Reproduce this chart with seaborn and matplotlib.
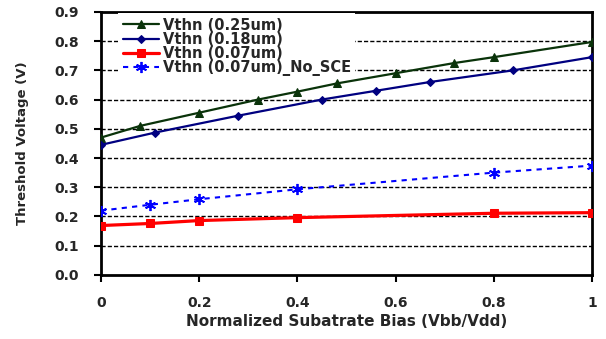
import seaborn as sns
import matplotlib.pyplot as plt

# Vthn vs normalized substrate bias
x_25 = [0, 0.08, 0.2, 0.32, 0.4, 0.48, 0.6, 0.72, 0.8, 1.0]
vth_25 = [0.47, 0.51, 0.555, 0.60, 0.627, 0.655, 0.69, 0.725, 0.745, 0.797]

x_18 = [0, 0.11, 0.28, 0.45, 0.56, 0.67, 0.84, 1.0]
vth_18 = [0.445, 0.487, 0.545, 0.60, 0.63, 0.66, 0.70, 0.745]

x_07 = [0, 0.1, 0.2, 0.4, 0.8, 1.0]
vth_07 = [0.169, 0.176, 0.186, 0.196, 0.211, 0.213]
vth_07_nosce = [0.22, 0.24, 0.259, 0.293, 0.35, 0.374]

y_ticks = [0.0, 0.1, 0.2, 0.3, 0.4, 0.5, 0.6, 0.7, 0.8, 0.9]
x_ticks = [0, 0.2, 0.4, 0.6, 0.8, 1.0]
x_ticklabels = ['0', '0.2', '0.4', '0.6', '0.8', '1']

sns.set_style("white")
plt.rcParams['font.family'] = ['DejaVu Sans']
plt.rcParams['font.weight'] = 'bold'

fig = plt.figure(figsize=(6.06, 3.39), dpi=100)
ax = fig.add_axes([0.1667, 0.189, 0.81, 0.776])

sns.lineplot(x=x_25, y=vth_25, ax=ax, color='#0a330a', lw=1.6, marker='^',
             markersize=6, markeredgecolor='#0a330a', label='Vthn (0.25um)', zorder=4)
sns.lineplot(x=x_18, y=vth_18, ax=ax, color='#000080', lw=1.6, marker='D',
             markersize=4.5, markeredgecolor='#000080', label='Vthn (0.18um)', zorder=4)
sns.lineplot(x=x_07, y=vth_07, ax=ax, color='#ff0000', lw=2.3, marker='s',
             markersize=6, markeredgecolor='#ff0000', label='Vthn (0.07um)', zorder=4)
sns.lineplot(x=x_07, y=vth_07_nosce, ax=ax, color='#0000ff', lw=1.5, marker=(6, 2, 0),
             markersize=8, markeredgewidth=1.3, markeredgecolor='#0000ff',
             linestyle=(0, (2.5, 2.5)), label='Vthn (0.07um)_No_SCE', zorder=4)

for v in y_ticks[1:-1]:
    ax.axhline(v, color='black', lw=1, linestyle=(0, (3, 1.5)), zorder=1)

ax.set_xlim(0, 1)
ax.set_ylim(0, 0.9)
ax.set_xticks(x_ticks)
ax.set_xticklabels(x_ticklabels)
ax.set_yticks(y_ticks)
ax.set_yticklabels([f'{v:.1f}' for v in y_ticks])
ax.tick_params(axis='both', direction='out', length=5, width=1.5, labelsize=10,
               bottom=True, left=True, color='black')
ax.tick_params(axis='y', pad=11)
ax.tick_params(axis='x', pad=10)
for lab in ax.get_xticklabels() + ax.get_yticklabels():
    lab.set_fontweight('bold')
for s in ax.spines.values():
    s.set_color('black')
    s.set_linewidth(2)

ax.set_xlabel('Normalized Subatrate Bias (Vbb/Vdd)', fontsize=11, fontweight='bold', labelpad=3)
ax.set_ylabel('Threshold Voltage (V)', fontsize=9.5, fontweight='bold', labelpad=18)

leg = ax.legend(loc='upper left', bbox_to_anchor=(0.035, 0.995), borderaxespad=0,
                frameon=True, facecolor='white', edgecolor='none', framealpha=1,
                prop={'weight': 'bold', 'size': 10.5}, handlelength=2.5,
                labelspacing=-0.05, borderpad=0.3, handletextpad=0.25,
                fancybox=False)
leg.set_zorder(3)

fig.savefig('out.png', dpi=100)
